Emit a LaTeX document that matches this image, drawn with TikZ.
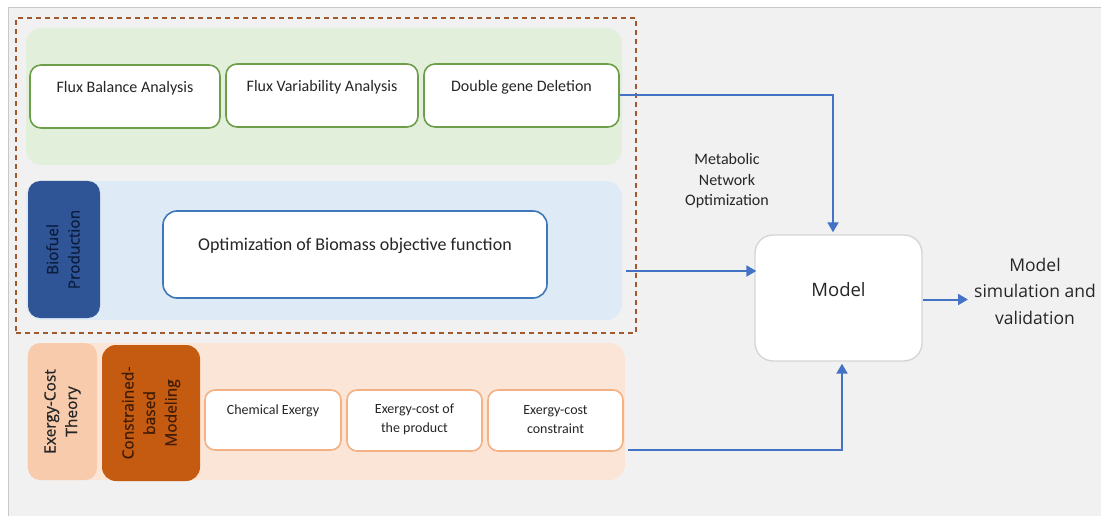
\documentclass[tikz,border=0pt]{standalone}
\usepackage{fontspec}
\setmainfont{Carlito}
\newfontfamily\seg{Open Sans}
\newfontfamily\segb[FakeBold=0.6]{Open Sans}
\usetikzlibrary{arrows.meta}
\definecolor{bg}{HTML}{F1F1F1}
\definecolor{bgline}{HTML}{C8C8C8}
\definecolor{dashc}{HTML}{A0582C}
\definecolor{greenp}{HTML}{E2EFDA}
\definecolor{greenb}{HTML}{6E9E4A}
\definecolor{bluep}{HTML}{DEEBF7}
\definecolor{blued}{HTML}{2F5597}
\definecolor{bluet}{HTML}{0C1C3E}
\definecolor{blueb}{HTML}{3F78B8}
\definecolor{orangep}{HTML}{FBE5D6}
\definecolor{salmon}{HTML}{F8CBAD}
\definecolor{rust}{HTML}{C55A11}
\definecolor{rustt}{HTML}{3F1C06}
\definecolor{orangeb}{HTML}{F4B183}
\definecolor{modelb}{HTML}{D6D6D6}
\definecolor{arrc}{HTML}{4472C4}
\definecolor{txt}{HTML}{262626}
\begin{document}
\begin{tikzpicture}[x=1pt,y=-1pt,
  panel/.style={rounded corners=16pt, inner sep=0pt, draw=none},
  wbox/.style={rounded corners=11pt, fill=white, line width=1.6pt, inner sep=0pt},
  lbl/.style={text=txt, inner sep=0pt, align=center},
  vtxt/.style={rotate=90, inner sep=0pt, align=center, font=\segb\fontsize{15.5}{21.5}\selectfont},
  arr/.style={draw=arrc, line width=2pt, -{Triangle[length=10pt,width=11pt]}, shorten >=2pt}
]
\useasboundingbox (0,0) rectangle (1101,516);
\fill[white] (0,0) rectangle (1101,516);
\filldraw[fill=bg, draw=bgline, line width=1.2pt] (8.5,7.5) rectangle (1110,525);

% green panel
\node[panel, fill=greenp, minimum width=596pt, minimum height=137pt] (green) at (324,96.5) {};
\node[wbox, draw=greenb, minimum width=190pt, minimum height=63pt] (fba) at (125,96.5) {};
\node[wbox, draw=greenb, minimum width=192pt, minimum height=63pt] (fva) at (322,95.5) {};
\node[wbox, draw=greenb, minimum width=195pt, minimum height=63pt] (dgd) at (521.5,95.5) {};
\node[lbl, font=\fontsize{16}{19}\selectfont] (tfba) at (125,88) {Flux Balance Analysis};
\node[lbl, font=\fontsize{16}{19}\selectfont] (tfva) at (322,87) {Flux Variability Analysis};
\node[lbl, font=\fontsize{16}{19}\selectfont] (tdgd) at (521.5,87) {Double gene Deletion};

% blue panel
\node[panel, fill=bluep, minimum width=596pt, minimum height=139pt] (blue) at (324,250.5) {};
\node[panel, rounded corners=12pt, fill=blued, minimum width=72pt, minimum height=137pt] (bio) at (64,249.5) {};
\node[vtxt, text=bluet] (tbio) at (63,249.5) {Biofuel\\Production};
\node[wbox, rounded corners=14pt, draw=blueb, minimum width=384pt, minimum height=87pt] (opt) at (355,254.5) {};
\node[lbl, font=\fontsize{18}{22}\selectfont] (topt) at (355,246) {Optimization of Biomass objective function};

% dashed frame
\node[draw=dashc, dashed, dash pattern=on 5pt off 4pt, line width=1.6pt, minimum width=620pt, minimum height=315pt, inner sep=0pt] (frame) at (326,175.5) {};

% orange panel
\node[panel, fill=orangep, minimum width=598pt, minimum height=137pt] (orange) at (326,411.5) {};
\node[panel, rounded corners=12pt, fill=salmon, minimum width=69pt, minimum height=137pt] (ect) at (62.5,411.5) {};
\node[vtxt, text=txt] (tect) at (62.5,411.5) {Exergy-Cost\\Theory};
\node[panel, rounded corners=14pt, fill=rust, minimum width=98pt, minimum height=136pt] (cbm) at (151,413) {};
\node[vtxt, text=rustt] (tcbm) at (151,413) {Constrained-\\based\\Modeling};
\node[wbox, rounded corners=10pt, draw=orangeb, minimum width=136pt, minimum height=60pt] (chem) at (273,420) {};
\node[wbox, rounded corners=10pt, draw=orangeb, minimum width=135pt, minimum height=61pt] (exprod) at (414.5,420.5) {};
\node[wbox, rounded corners=10pt, draw=orangeb, minimum width=135pt, minimum height=61pt] (excon) at (555.5,420.5) {};
\node[lbl, font=\fontsize{14}{19.5}\selectfont] (tchem) at (273,411) {Chemical Exergy};
\node[lbl, font=\fontsize{14}{19.5}\selectfont] (texprod) at (414.5,419.5) {Exergy-cost of\\the product};
\node[lbl, font=\fontsize{14}{19.5}\selectfont] (texcon) at (555.5,419.5) {Exergy-cost\\constraint};

% model
\node[wbox, rounded corners=18pt, draw=modelb, line width=1.4pt, minimum width=167pt, minimum height=126pt] (model) at (838.5,298) {};
\node[lbl, font=\seg\fontsize{18.5}{22}\selectfont] (tmodel) at (838.5,290) {Model};

\node[lbl, font=\fontsize{16}{20.5}\selectfont] (mno) at (727,181) {Metabolic\\Network\\Optimization};
\node[lbl, font=\seg\fontsize{17.5}{26.5}\selectfont, inner sep=3pt] (out) at (1035,291) {Model\\simulation and\\validation};

% connectors
\draw[arr] (dgd.east) -| ([xshift=-5.5pt]model.north);
\draw[arr] ([xshift=4pt,yshift=-20.5pt]blue.east) -- ([xshift=4pt,yshift=-20.5pt]blue.east -| model.west);
\draw[arr] ([xshift=3pt,yshift=-38.5pt]orange.east) -| ([xshift=3.5pt]model.south);
\draw[arr, shorten >=3pt] ([yshift=-1.5pt]model.east) -- ([yshift=-1.5pt]model.east -| out.west);
\end{tikzpicture}
\end{document}
